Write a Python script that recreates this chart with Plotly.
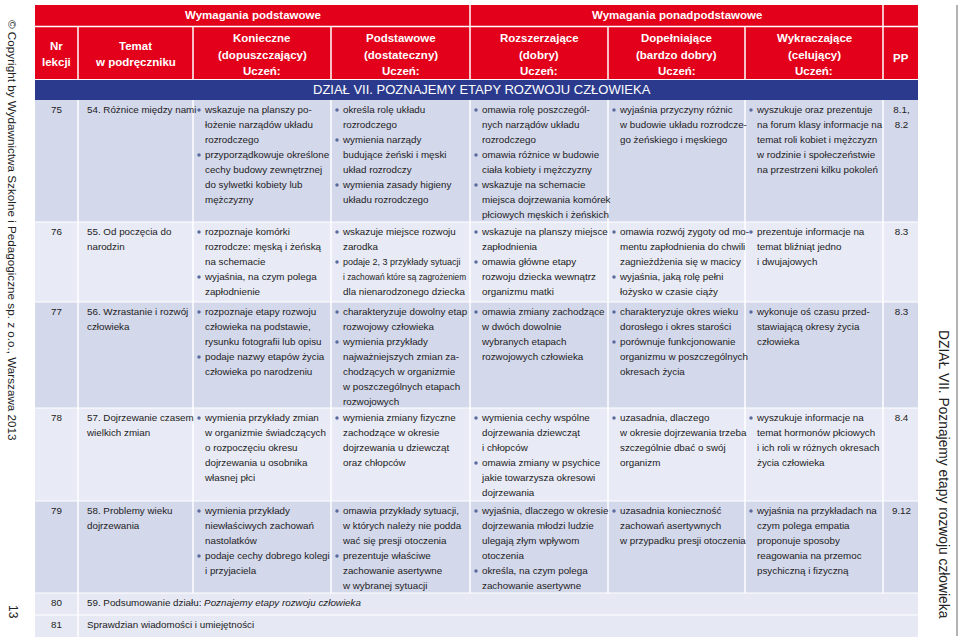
import plotly.graph_objects as go

# ---------------- data ----------------
grupy = ["Wymagania podstawowe", "Wymagania ponadpodstawowe"]
naglowki = [
    ["Nr", "lekcji"],
    ["Temat", "w podręczniku"],
    ["Konieczne", "(dopuszczający)", "Uczeń:"],
    ["Podstawowe", "(dostateczny)", "Uczeń:"],
    ["Rozszerzające", "(dobry)", "Uczeń:"],
    ["Dopełniające", "(bardzo dobry)", "Uczeń:"],
    ["Wykraczające", "(celujący)", "Uczeń:"],
    ["PP"],
]
dzial = "DZIAŁ VII. POZNAJEMY ETAPY ROZWOJU CZŁOWIEKA"
copyright_txt = "© Copyright by Wydawnictwa Szkolne i Pedagogiczne sp. z o.o., Warszawa 2013"
nr_strony = "13"
boczny_tytul = "DZIAŁ VII. Poznajemy etapy rozwoju człowieka"

nr_lekcji = ["75", "76", "77", "78", "79", "80", "81"]

tematy = [
    ["54. Różnice między nami"],
    ["55. Od poczęcia do", "narodzin"],
    ["56. Wzrastanie i rozwój", "człowieka"],
    ["57. Dojrzewanie czasem", "wielkich zmian"],
    ["58. Problemy wieku", "dojrzewania"],
    ["59. Podsumowanie działu: <i>Poznajemy etapy rozwoju człowieka</i>"],
    ["Sprawdzian wiadomości i umiejętności"],
]

konieczne = [
    [["wskazuje na planszy po-", "łożenie narządów układu", "rozrodczego"],
     ["przyporządkowuje określone", "cechy budowy zewnętrznej", "do sylwetki kobiety lub", "mężczyzny"]],
    [["rozpoznaje komórki", "rozrodcze: męską i żeńską", "na schemacie"],
     ["wyjaśnia, na czym polega", "zapłodnienie"]],
    [["rozpoznaje etapy rozwoju", "człowieka na podstawie,", "rysunku fotografii lub opisu"],
     ["podaje nazwy etapów życia", "człowieka po narodzeniu"]],
    [["wymienia przykłady zmian", "w organizmie świadczących", "o rozpoczęciu okresu",
      "dojrzewania u osobnika", "własnej płci"]],
    [["wymienia przykłady", "niewłaściwych zachowań", "nastolatków"],
     ["podaje cechy dobrego kolegi", "i przyjaciela"]],
]

podstawowe = [
    [["określa rolę układu", "rozrodczego"],
     ["wymienia narządy", "budujące żeński i męski", "układ rozrodczy"],
     ["wymienia zasady higieny", "układu rozrodczego"]],
    [["wskazuje miejsce rozwoju", "zarodka"],
     ["podaje 2, 3 przykłady sytuacji", "i zachowań które są zagrożeniem", "dla nienarodzonego dziecka"]],
    [["charakteryzuje dowolny etap", "rozwojowy człowieka"],
     ["wymienia przykłady", "najważniejszych zmian za-", "chodzących w organizmie",
      "w poszczególnych etapach", "rozwojowych"]],
    [["wymienia zmiany fizyczne", "zachodzące w okresie", "dojrzewania u dziewcząt", "oraz chłopców"]],
    [["omawia przykłady sytuacji,", "w których należy nie podda", "wać się presji otoczenia"],
     ["prezentuje właściwe", "zachowanie asertywne", "w wybranej sytuacji"]],
]

rozszerzajace = [
    [["omawia rolę poszczegól-", "nych narządów układu", "rozrodczego"],
     ["omawia różnice w budowie", "ciała kobiety i mężczyzny"],
     ["wskazuje na schemacie", "miejsca dojrzewania komórek", "płciowych męskich i żeńskich"]],
    [["wskazuje na planszy miejsce", "zapłodnienia"],
     ["omawia główne etapy", "rozwoju dziecka wewnątrz", "organizmu matki"]],
    [["omawia zmiany zachodzące", "w dwóch dowolnie", "wybranych etapach", "rozwojowych człowieka"]],
    [["wymienia cechy wspólne", "dojrzewania dziewcząt", "i chłopców"],
     ["omawia zmiany w psychice", "jakie towarzysza okresowi", "dojrzewania"]],
    [["wyjaśnia, dlaczego w okresie", "dojrzewania młodzi ludzie", "ulegają złym wpływom", "otoczenia"],
     ["określa, na czym polega", "zachowanie asertywne"]],
]

dopelniajace = [
    [["wyjaśnia przyczyny różnic", "w budowie układu rozrodcze-", "go żeńskiego i męskiego"]],
    [["omawia rozwój zygoty od mo-", "mentu zapłodnienia do chwili", "zagnieżdżenia się w macicy"],
     ["wyjaśnia, jaką rolę pełni", "łożysko w czasie ciąży"]],
    [["charakteryzuje okres wieku", "dorosłego i okres starości"],
     ["porównuje funkcjonowanie", "organizmu w poszczególnych", "okresach życia"]],
    [["uzasadnia, dlaczego", "w okresie dojrzewania trzeba", "szczególnie dbać o swój", "organizm"]],
    [["uzasadnia konieczność", "zachowań asertywnych", "w przypadku presji otoczenia"]],
]

wykraczajace = [
    [["wyszukuje oraz prezentuje", "na forum klasy informacje na", "temat roli kobiet i mężczyzn",
      "w rodzinie i społeczeństwie", "na przestrzeni kilku pokoleń"]],
    [["prezentuje informacje na", "temat bliźniąt jedno", "i dwujajowych"]],
    [["wykonuje oś czasu przed-", "stawiającą okresy życia", "człowieka"]],
    [["wyszukuje informacje na", "temat hormonów płciowych", "i ich roli w różnych okresach",
      "życia człowieka"]],
    [["wyjaśnia na przykładach na", "czym polega empatia", "proponuje sposoby",
      "reagowania na przemoc", "psychiczną i fizyczną"]],
]

pp = [["8.1,", "8.2"], ["8.3"], ["8.3"], ["8.4"], ["9.12"]]

# ---------------- layout / styles ----------------
W, H = 960, 641
col_edges = [35, 78, 193, 331, 470, 608, 745, 883, 918]
row_edges = [100, 222, 302, 408, 501, 593, 615, 637]
RED = "#e2001a"
BLUE = "#2b3a8c"
DARK_ROW = "#d4d8eb"
LIGHT_ROW = "#e8eaf5"
TXT = "#222222"
FONT = "Liberation Sans, Arial, sans-serif"
BODY_SIZE = 9.8
squeezed = {"i zachowań które są zagrożeniem": 8.3, "podaje 2, 3 przykłady sytuacji": 9.0}
LINE_H = 15
FIRST = 10.5

fig = go.Figure()
shapes = []
annotations = []


def rect(x0, x1, y0, y1, fill, lw=0, lc="white"):
    shapes.append(dict(type="rect", xref="x", yref="y", x0=x0, x1=x1, y0=y0, y1=y1,
                       fillcolor=fill, line=dict(width=lw, color=lc), layer="below"))


def line(x0, y0, x1, y1, w=1.5, c="white"):
    shapes.append(dict(type="line", xref="x", yref="y", x0=x0, y0=y0, x1=x1, y1=y1,
                       line=dict(width=w, color=c), layer="below"))


def text(x, y, s, size=11.5, color="white", bold=False, angle=0, xa="center"):
    annotations.append(dict(x=x, y=y, xref="x", yref="y", text=f"<b>{s}</b>" if bold else s,
                            showarrow=False, textangle=angle, xanchor=xa, yanchor="middle",
                            font=dict(family=FONT, size=size, color=color)))


# header
rect(col_edges[0], col_edges[-1], 5, 79, RED)
line(col_edges[4], 5, col_edges[4], 26)
line(col_edges[7], 5, col_edges[7], 26)
line(col_edges[0], 26.5, col_edges[-1], 26.5)
for e in col_edges[1:-1]:
    line(e, 27, e, 79)
text((col_edges[0] + col_edges[4]) / 2, 15, grupy[0], bold=True)
text((col_edges[4] + col_edges[7]) / 2, 15, grupy[1], bold=True)
for i, lab in enumerate(naglowki):
    cx = (col_edges[i] + col_edges[i + 1]) / 2
    if len(lab) == 3:
        ys = [38, 54.5, 71]
    elif len(lab) == 2:
        ys = [46, 62]
    else:
        ys = [58]
    for y, s in zip(ys, lab):
        text(cx, y, s, bold=True)

rect(col_edges[0], col_edges[-1], 80, 100, BLUE)
text((col_edges[0] + col_edges[-1]) / 2 + 5, 89.5, dzial, size=13)

# body backgrounds
row_fill = [DARK_ROW, LIGHT_ROW, DARK_ROW, LIGHT_ROW, DARK_ROW, "#e6e8f4", "#e6e8f4"]
for r in range(len(nr_lekcji)):
    rect(col_edges[0], col_edges[-1], row_edges[r], row_edges[r + 1], row_fill[r])
for r in range(1, len(nr_lekcji)):
    line(col_edges[0], row_edges[r], col_edges[-1], row_edges[r], w=1.2)
for e in col_edges[1:-1]:
    line(e, row_edges[0], e, row_edges[5], w=1.5)
line(col_edges[1], row_edges[5], col_edges[1], row_edges[7], w=1.5)

# body text
tx, ty, tt, ts = [], [], [], []
bx, by = [], []
cx_, cy_, ct_ = [], [], []

for r in range(len(nr_lekcji)):
    top = row_edges[r]
    cx_.append((col_edges[0] + col_edges[1]) / 2)
    cy_.append(top + FIRST)
    ct_.append(nr_lekcji[r])
    for k, s in enumerate(tematy[r]):
        tx.append(87); ty.append(top + FIRST + k * LINE_H); tt.append(s); ts.append(BODY_SIZE)

columns = [konieczne, podstawowe, rozszerzajace, dopelniajace, wykraczajace]
for c, col in enumerate(columns):
    x_text = col_edges[c + 2] + 12
    x_bul = col_edges[c + 2] + 6
    for r, items in enumerate(col):
        top = row_edges[r]
        i = 0
        for item in items:
            for j, s in enumerate(item):
                y = top + FIRST + i * LINE_H
                tx.append(x_text); ty.append(y); tt.append(s)
                ts.append(squeezed.get(s, BODY_SIZE))
                if j == 0:
                    bx.append(x_bul); by.append(y - 0.5)
                i += 1

for r, lines in enumerate(pp):
    for k, s in enumerate(lines):
        cx_.append((col_edges[7] + col_edges[8]) / 2 + 1)
        cy_.append(row_edges[r] + FIRST + k * LINE_H)
        ct_.append(s)

fig.add_trace(go.Scatter(x=tx, y=ty, text=tt, mode="text", textposition="middle right",
                         textfont=dict(family=FONT, size=ts, color=TXT), hoverinfo="skip"))
fig.add_trace(go.Scatter(x=cx_, y=cy_, text=ct_, mode="text", textposition="middle center",
                         textfont=dict(family=FONT, size=BODY_SIZE, color=TXT), hoverinfo="skip"))
fig.add_trace(go.Scatter(x=bx, y=by, mode="markers",
                         marker=dict(size=3.5, color="#5b6a9c", symbol="circle"), hoverinfo="skip"))

# side texts
text(13, 230, copyright_txt, size=11.7, color="#222222", angle=90)
text(13, 612, nr_strony, size=12, color="#222222", angle=90)
text(944, 474, boczny_tytul, size=13.8, color="#222222", angle=90)
line(957, 5, 957, 636, w=1.5, c="#9a9a9a")

fig.update_layout(
    width=W, height=H, margin=dict(l=0, r=0, t=0, b=0),
    xaxis=dict(range=[0, W], visible=False, fixedrange=True),
    yaxis=dict(range=[H, 0], visible=False, fixedrange=True),
    plot_bgcolor="white", paper_bgcolor="white", showlegend=False,
    shapes=shapes, annotations=annotations,
)

fig.write_html("out.html", config={"displayModeBar": False},
               post_script="document.body.style.margin='0';")
